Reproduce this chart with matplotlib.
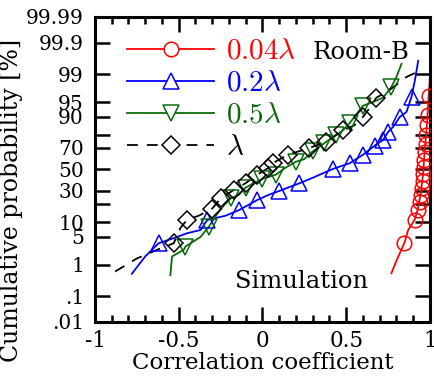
import math

import matplotlib
matplotlib.use("Agg")
import matplotlib.pyplot as plt
import numpy as np
from matplotlib.ticker import FixedLocator, FixedFormatter, MultipleLocator, NullLocator, FuncFormatter

# ---- data -----------------------------------------------------------------
# 0.04 lambda (red circles)
red_mx = [0.848, 0.908, 0.926, 0.938, 0.944, 0.950, 0.956, 0.959, 0.962, 0.965,
          0.968, 0.974, 0.977, 0.980, 0.986, 0.992]
red_mp = [3.7, 10.9, 16.1, 21.5, 26.8, 32.6, 39.0, 45.6, 52.4, 59.1,
          66.6, 73.2, 80.0, 86.0, 90.8, 96.3]
red_lx = [0.77, 0.80, 0.848, 0.87, 0.908, 0.926, 0.944, 0.959, 0.968, 0.977,
          0.986, 0.992, 1.0, 1.01]
red_lp = [0.57, 1.3, 3.7, 7.0, 10.9, 16.1, 26.8, 45.6, 66.6, 80.0,
          90.8, 96.3, 98.8, 99.6]

# 0.2 lambda (blue up-triangles)
blue_mx = [-0.62, -0.33, -0.14, -0.03, 0.10, 0.22, 0.42, 0.52, 0.60, 0.67,
           0.72, 0.75, 0.82, 0.89]
blue_mp = [3.6, 10.9, 16.1, 22.9, 30.0, 36.8, 50.5, 56.0, 64.0, 72.0,
           76.4, 82.0, 90.0, 96.2]
blue_lx = [-0.78, -0.70, -0.62, -0.53, -0.45, -0.37, -0.33, -0.22, -0.14, -0.03,
           0.04, 0.10, 0.22, 0.30, 0.42, 0.52, 0.60, 0.67, 0.72, 0.75,
           0.78, 0.82, 0.86, 0.89, 0.91, 0.93]
blue_lp = [0.55, 1.7, 3.6, 4.7, 6.0, 7.0, 10.9, 13.0, 16.1, 22.9,
           27.0, 30.0, 36.8, 42.0, 50.5, 56.0, 64.0, 72.0, 76.4, 82.0,
           85.0, 90.0, 92.0, 96.2, 98.5, 99.6]

# 0.5 lambda (green down-triangles)
green_mx = [-0.46, -0.32, -0.19, -0.10, 0.00, 0.08, 0.20, 0.30, 0.37, 0.44,
            0.52, 0.60, 0.77]
green_mp = [3.0, 8.2, 24.0, 33.0, 41.0, 45.0, 57.5, 67.0, 74.0, 80.0,
            87.0, 94.0, 97.8]
green_lx = [-0.55, -0.54, -0.47, -0.46, -0.37, -0.32, -0.27, -0.23, -0.19, -0.14,
            -0.10, -0.05, 0.00, 0.04, 0.08, 0.14, 0.20, 0.25, 0.30, 0.37,
            0.44, 0.48, 0.52, 0.60, 0.66, 0.72, 0.77, 0.80, 0.83]
green_lp = [0.5, 1.7, 2.5, 3.0, 5.0, 8.2, 14.0, 19.0, 24.0, 27.0,
            33.0, 37.0, 41.0, 43.0, 45.0, 52.0, 57.5, 60.0, 67.0, 74.0,
            80.0, 83.0, 87.0, 94.0, 95.0, 96.0, 97.8, 98.8, 99.5]

# lambda (black diamonds, dashed)
black_mx = [-0.53, -0.45, -0.30, -0.25, -0.17, -0.10, -0.03, 0.03, 0.06, 0.15,
            0.28, 0.38, 0.48, 0.60, 0.68]
black_mp = [3.6, 11.0, 17.0, 24.0, 31.0, 37.0, 45.0, 51.0, 56.0, 64.0,
            70.0, 75.0, 83.0, 90.0, 96.0]
black_lx = [-0.88, -0.75, -0.62, -0.53, -0.49, -0.45, -0.38, -0.30, -0.25, -0.17,
            -0.10, -0.03, 0.03, 0.06, 0.15, 0.28, 0.38, 0.48, 0.55, 0.60,
            0.63, 0.68, 0.75, 0.81, 0.86, 0.94]
black_lp = [0.64, 1.5, 2.6, 3.6, 7.7, 11.0, 13.0, 17.0, 24.0, 31.0,
            37.0, 45.0, 51.0, 56.0, 64.0, 70.0, 75.0, 83.0, 86.0, 90.0,
            92.6, 96.0, 97.2, 98.2, 98.8, 99.2]

prob_ticks = [0.01, 0.1, 1, 5, 10, 20, 30, 50, 70, 80, 90, 95, 99, 99.9, 99.99]
prob_labels = [".01", ".1", "1", "5", "10", "", "30", "50", "70", "", "90", "95",
               "99", "99.9", "99.99"]

RED, BLUE, GREEN, BLACK = "#ff0000", "#0000ff", "#0b6b0b", "black"

# ---- probit scale (no scipy here) -----------------------------------------
_A = [-3.969683028665376e+01, 2.209460984245205e+02, -2.759285104469687e+02,
      1.383577518672690e+02, -3.066479806614716e+01, 2.506628277459239e+00]
_B = [-5.447609879822406e+01, 1.615858368580409e+02, -1.556989798598866e+02,
      6.680131188771972e+01, -1.328068155288572e+01, 1.0]
_C = [-7.784894002430293e-03, -3.223964580411365e-01, -2.400758277161838e+00,
      -2.549732539343734e+00, 4.374664141464968e+00, 2.938163982698783e+00]
_D = [7.784695709041462e-03, 3.224671290700398e-01, 2.445134137142996e+00,
      3.754408661907416e+00, 1.0]


def probit(pct):
    """percent -> standard normal quantile (Acklam's approximation)."""
    pct = np.asarray(pct, dtype=float)
    q = np.clip(pct.ravel() / 100.0, 1e-9, 1 - 1e-9)
    z = np.empty_like(q)
    lo = q < 0.02425
    hi = q > 1 - 0.02425
    mid = ~(lo | hi)
    r = q[mid] - 0.5
    s = r * r
    z[mid] = np.polyval(_A, s) * r / np.polyval(_B, s)
    t = np.sqrt(-2 * np.log(q[lo]))
    z[lo] = np.polyval(_C, t) / np.polyval(_D, t)
    t = np.sqrt(-2 * np.log(1 - q[hi]))
    z[hi] = -np.polyval(_C, t) / np.polyval(_D, t)
    return z.reshape(pct.shape)


_erf = np.vectorize(math.erf)


def inv_probit(z):
    return 50.0 * (1 + _erf(np.asarray(z, dtype=float) / math.sqrt(2)))


# ---- plot ------------------------------------------------------------------
plt.rcParams["font.family"] = ["DejaVu Serif"]
plt.rcParams["mathtext.fontset"] = "cm"
plt.rcParams["axes.unicode_minus"] = False

fig = plt.figure(figsize=(4.35, 3.81), dpi=100)
ax = fig.add_axes([0.2184, 0.1549, 0.77, 0.8005])
ax.set_yscale("function", functions=(probit, inv_probit))

series = [
    (red_lx, red_lp, red_mx, red_mp, RED, "o", 10.5, "-", r"$\mathrm{0.04}\lambda$"),
    (blue_lx, blue_lp, blue_mx, blue_mp, BLUE, "^", 11, "-", r"$\mathrm{0.2}\lambda$"),
    (green_lx, green_lp, green_mx, green_mp, GREEN, "v", 11, "-", r"$\mathrm{0.5}\lambda$"),
    (black_lx, black_lp, black_mx, black_mp, BLACK, "D", 9.5, (0, (6, 5)), r"$\lambda$"),
]
handles = []
for lx, lp, mx, mp, col, mk, ms, ls, lab in series:
    ax.plot(lx, lp, color=col, lw=1.3, ls=ls, zorder=2)
    ax.plot(mx, mp, ls="none", marker=mk, ms=ms, mfc="none", mec=col,
            mew=1.1, zorder=3)
    h, = ax.plot([], [], color=col, lw=1.3, ls=ls, marker=mk, ms=ms,
                 mfc="white", mec=col, mew=1.1, label=lab)
    handles.append(h)

ax.set_xlim(-1, 1)
ax.set_ylim(0.01, 99.99)

ax.xaxis.set_major_locator(MultipleLocator(0.5))
ax.xaxis.set_minor_locator(MultipleLocator(0.1))
ax.xaxis.set_major_formatter(FuncFormatter(lambda v, _: f"{round(v, 2) + 0:g}"))
ax.yaxis.set_major_locator(FixedLocator(prob_ticks))
ax.yaxis.set_major_formatter(FixedFormatter(prob_labels))
ax.yaxis.set_minor_locator(NullLocator())

ax.tick_params(which="both", direction="in", top=True, right=True, width=1.8)
ax.tick_params(which="major", length=11)
ax.tick_params(which="minor", length=5)
ax.tick_params(axis="x", labelsize=15.5, pad=6)
ax.tick_params(axis="y", labelsize=14.5, pad=8)
for sp in ax.spines.values():
    sp.set_linewidth(2.2)

ax.set_xlabel("Correlation coefficient", fontsize=16.5, labelpad=0)
ax.set_ylabel("Cumulative probability [%]", fontsize=17)
ax.yaxis.set_label_coords(-0.215, 0.40)

leg = ax.legend(handles=handles, loc="upper left", frameon=False, fontsize=21,
                handlelength=3.0, handletextpad=0.4, labelspacing=0.14,
                borderpad=0, borderaxespad=0, labelcolor="linecolor",
                bbox_to_anchor=(0.095, 0.935))

ax.text(0.65, 0.885, "Room-B", transform=ax.transAxes, fontsize=17.5,
        ha="left", va="center")
ax.text(0.418, 0.132, "Simulation", transform=ax.transAxes, fontsize=17.5,
        ha="left", va="center")

fig.savefig("out.png", dpi=100)
